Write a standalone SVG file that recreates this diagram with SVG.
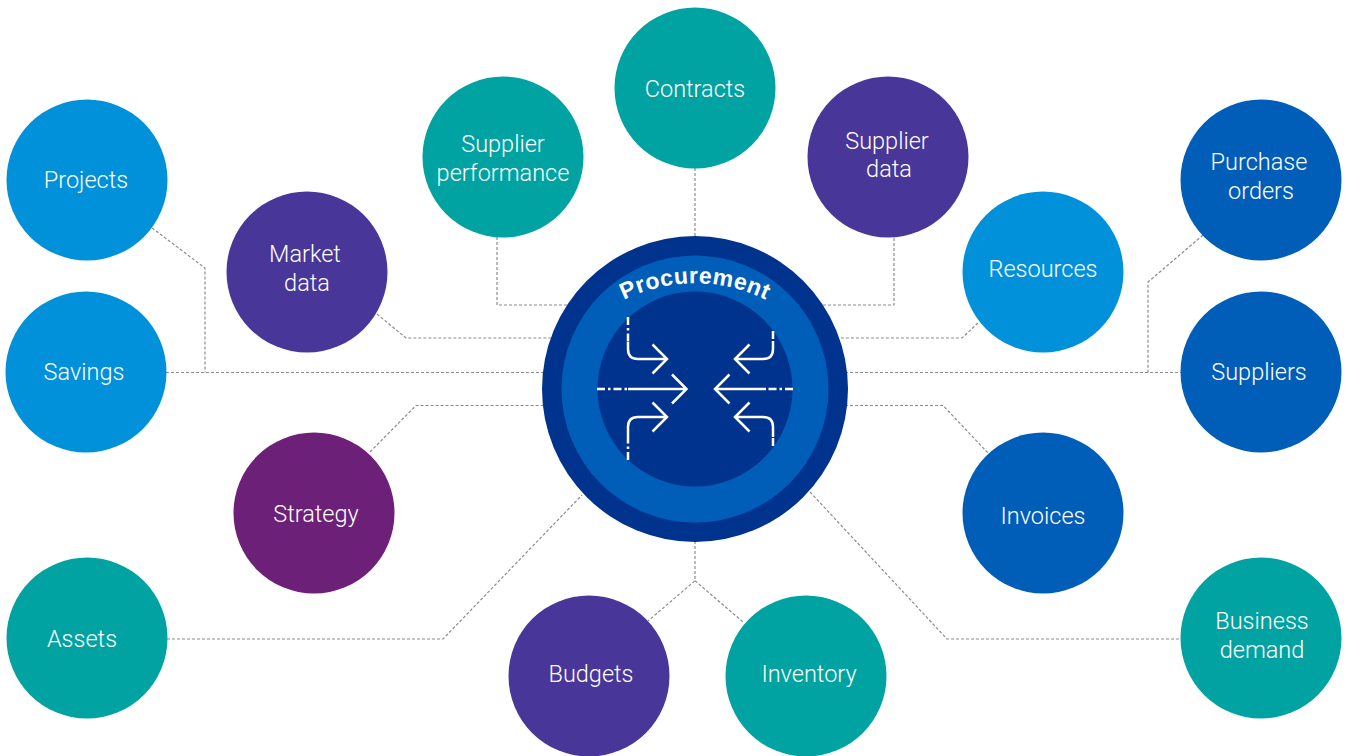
<svg xmlns="http://www.w3.org/2000/svg" width="1346" height="756" viewBox="0 0 1346 756">
<style>
.conn{fill:none;stroke:#8c8c8c;stroke-width:1.2;stroke-dasharray:3 2}
.lbl{font-family:Roboto,"Liberation Sans",Arial,sans-serif;font-weight:300;font-size:23.5px;fill:#ffffff;text-anchor:middle}
.lb{fill:#0091DA}.tl{fill:#00A3A1}.vi{fill:#483698}.pu{fill:#6D2077}.bl{fill:#005EB8}
.arw{fill:none;stroke:#ffffff;stroke-width:2.5;stroke-linecap:butt;stroke-linejoin:miter}
.dd{fill:none;stroke:#ffffff;stroke-width:2.5;stroke-dasharray:8 3 2.5 3}
</style>
<defs>
<path id="arc" d="M565,350 A160,160 0 0,1 825,350"/>
</defs>
<g id="connectors">
<path class="conn" d="M152,228 L205,268 V372.5"/>
<path class="conn" d="M166,372.5 H545"/>
<path class="conn" d="M377,314 L406,338 H553"/>
<path class="conn" d="M497,237 V305 H568"/>
<path class="conn" d="M695,168 V237"/>
<path class="conn" d="M894,238 V305 H822"/>
<path class="conn" d="M978,323 L962,338 H837"/>
<path class="conn" d="M1203,235 L1148,282 V372.5"/>
<path class="conn" d="M845,372.5 H1181"/>
<path class="conn" d="M370,452 L416,405.5 H545"/>
<path class="conn" d="M845,405.5 H943 L988,453"/>
<path class="conn" d="M167,639 H443 L582,495"/>
<path class="conn" d="M810,492 L947,639 H1181"/>
<path class="conn" d="M695,541 V580.7 L648,621 M695,580.7 L743,622"/>
</g>
<g id="procurement">
<circle cx="695" cy="389" r="153" fill="#00338D"/>
<circle cx="695" cy="389" r="133.5" fill="#005EB8"/>
<circle cx="695" cy="389" r="97.5" fill="#00338D"/>
<text font-family="'Liberation Sans',Arial,sans-serif" font-size="23" font-weight="bold" fill="#ffffff" letter-spacing="0.5"><textPath href="#arc" startOffset="50%" text-anchor="middle">Procurement</textPath></text>
<g id="arrows">
<path class="dd" d="M597,389 H628"/>
<path class="arw" d="M628,389 H686 M672,374.5 L686.5,389 L672,403.5"/>
<path class="dd" d="M793,389 H766"/>
<path class="arw" d="M766,389 H716 M729.5,374.5 L715,389 L729.5,403.5"/>
<path class="dd" d="M628,317 V342"/>
<path class="arw" d="M628,342 V349 Q628,359 638,359 H666 M652.5,344.5 L667,359 L652.5,373.5"/>
<path class="dd" d="M628,460 V436"/>
<path class="arw" d="M628,436 V427 Q628,417 638,417 H666 M652.5,402.5 L667,417 L652.5,431.5"/>
<path class="dd" d="M773,331 V341"/>
<path class="arw" d="M773,341 V349 Q773,359 763,359 H736 M749.5,344.5 L735,359 L749.5,373.5"/>
<path class="dd" d="M773,446 V437"/>
<path class="arw" d="M773,437 V427 Q773,417 763,417 H736 M749.5,402.5 L735,417 L749.5,431.5"/>
</g>
</g>
<g id="projects"><circle class="lb" cx="87" cy="180" r="80.5"/><text class="lbl" x="86" y="188">Projects</text></g>
<g id="savings"><circle class="lb" cx="86" cy="372" r="80.5"/><text class="lbl" x="84" y="380">Savings</text></g>
<g id="assets"><circle class="tl" cx="87" cy="638" r="80.5"/><text class="lbl" x="82" y="647">Assets</text></g>
<g id="market-data"><circle class="vi" cx="307" cy="272" r="80.5"/><text class="lbl" x="305" y="261.5">Market</text><text class="lbl" x="307" y="290.5">data</text></g>
<g id="strategy"><circle class="pu" cx="314" cy="513" r="80.5"/><text class="lbl" x="316" y="521.5">Strategy</text></g>
<g id="supplier-performance"><circle class="tl" cx="503" cy="157" r="80.5"/><text class="lbl" x="503" y="151.5">Supplier</text><text class="lbl" x="503" y="180.5">performance</text></g>
<g id="contracts"><circle class="tl" cx="695" cy="88" r="80.5"/><text class="lbl" x="695" y="96.5">Contracts</text></g>
<g id="supplier-data"><circle class="vi" cx="888" cy="157" r="80.5"/><text class="lbl" x="887" y="148.5">Supplier</text><text class="lbl" x="889" y="177">data</text></g>
<g id="resources"><circle class="lb" cx="1043" cy="272" r="80.5"/><text class="lbl" x="1043" y="276.5">Resources</text></g>
<g id="purchase-orders"><circle class="bl" cx="1261" cy="180" r="80.5"/><text class="lbl" x="1259" y="169.5">Purchase</text><text class="lbl" x="1261" y="198.5">orders</text></g>
<g id="suppliers"><circle class="bl" cx="1261" cy="372" r="80.5"/><text class="lbl" x="1259" y="380">Suppliers</text></g>
<g id="invoices"><circle class="bl" cx="1043" cy="513" r="80.5"/><text class="lbl" x="1043" y="523.5">Invoices</text></g>
<g id="business-demand"><circle class="tl" cx="1261" cy="638" r="80.5"/><text class="lbl" x="1262" y="628.5">Business</text><text class="lbl" x="1262" y="657.5">demand</text></g>
<g id="budgets"><circle class="vi" cx="589" cy="676" r="80.5"/><text class="lbl" x="591" y="681.5">Budgets</text></g>
<g id="inventory"><circle class="tl" cx="806" cy="676" r="80.5"/><text class="lbl" x="809" y="681.5">Inventory</text></g>
</svg>
